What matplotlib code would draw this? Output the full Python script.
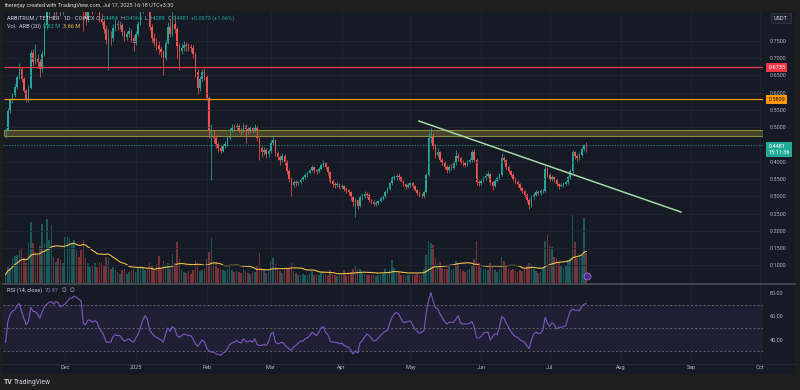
import numpy as np
import pandas as pd
import matplotlib
matplotlib.use("Agg")
import matplotlib.pyplot as plt
from matplotlib.patches import Rectangle
from matplotlib.lines import Line2D
from matplotlib.transforms import blended_transform_factory

plt.rcParams['font.family'] = ['Roboto', 'DejaVu Sans']

# ARB / USDT daily candles, index 0 = 2024-11-05, last = 2025-07-17
first_open = 0.474
closes = [
    0.492, 0.548, 0.578, 0.594, 0.617, 0.646, 0.668, 0.640, 0.604, 0.582,
    0.615, 0.715, 0.690, 0.700, 0.690, 0.668, 0.712, 0.795, 0.840, 0.855,
    0.862, 0.835, 0.862, 0.858, 0.835, 0.850, 0.868, 0.900, 0.960, 0.965,
    1.010, 0.995, 0.975, 0.965, 0.835, 0.815, 0.855, 0.858, 0.842, 0.865,
    0.850, 0.815, 0.805, 0.785, 0.752, 0.760, 0.758, 0.788, 0.800, 0.795,
    0.796, 0.775, 0.762, 0.770, 0.778, 0.760, 0.745, 0.770, 0.800, 0.838,
    0.865, 0.885, 0.870, 0.790, 0.760, 0.745, 0.738, 0.728, 0.718, 0.700,
    0.745, 0.790, 0.770, 0.800, 0.785, 0.735, 0.722, 0.730, 0.738, 0.735,
    0.732, 0.730, 0.712, 0.660, 0.615, 0.640, 0.660, 0.645, 0.585, 0.478,
    0.482, 0.470, 0.452, 0.440, 0.432, 0.445, 0.450, 0.468, 0.490, 0.500,
    0.498, 0.505, 0.492, 0.488, 0.505, 0.495, 0.488, 0.498, 0.490, 0.502,
    0.468, 0.440, 0.428, 0.435, 0.422, 0.430, 0.455, 0.462, 0.425, 0.415,
    0.405, 0.418, 0.400, 0.372, 0.350, 0.332, 0.340, 0.338, 0.340, 0.348,
    0.355, 0.362, 0.368, 0.375, 0.385, 0.375, 0.372, 0.380, 0.390, 0.398,
    0.385, 0.370, 0.345, 0.335, 0.332, 0.335, 0.328, 0.330, 0.322, 0.318,
    0.312, 0.298, 0.283, 0.288, 0.272, 0.298, 0.302, 0.306, 0.305, 0.288,
    0.284, 0.278, 0.280, 0.286, 0.294, 0.300, 0.313, 0.322, 0.338, 0.352,
    0.356, 0.358, 0.355, 0.345, 0.335, 0.328, 0.332, 0.338, 0.330, 0.318,
    0.310, 0.302, 0.300, 0.312, 0.362, 0.470, 0.478, 0.445, 0.420, 0.428,
    0.405, 0.398, 0.385, 0.375, 0.385, 0.382, 0.395, 0.418, 0.410, 0.400,
    0.395, 0.392, 0.400, 0.405, 0.428, 0.405, 0.340, 0.338, 0.345, 0.352,
    0.360, 0.365, 0.340, 0.330, 0.345, 0.352, 0.362, 0.410, 0.405, 0.385,
    0.372, 0.362, 0.350, 0.342, 0.335, 0.325, 0.315, 0.305, 0.290, 0.275,
    0.298, 0.305, 0.312, 0.310, 0.314, 0.315, 0.380, 0.362, 0.350, 0.355,
    0.348, 0.335, 0.330, 0.333, 0.336, 0.340, 0.355, 0.372, 0.428, 0.418,
    0.412, 0.420, 0.436, 0.4484, 0.4481,
]
highs = [
    .497, .556, .585, .600, .624, .652, .686, .675, .646, .610,
    .622, .724, .728, .742, .712, .698, .720, .805, .870, .880,
    .885, .870, .875, .880, .865, .862, .880, .915, .975, .990,
    1.040, 1.030, 1.005, .990, .972, .850, .868, .878, .865, .880,
    .875, .858, .830, .815, .795, .785, .778, .798, .815, .812,
    .808, .802, .782, .780, .790, .784, .768, .778, .808, .848,
    .878, .905, .900, .875, .800, .772, .758, .750, .735, .725,
    .752, .805, .815, .840, .825, .790, .745, .745, .750, .748,
    .745, .742, .738, .718, .668, .648, .668, .672, .650, .590,
    .510, .492, .478, .458, .448, .452, .460, .475, .498, .510,
    .508, .512, .510, .498, .512, .510, .500, .505, .502, .508,
    .505, .472, .445, .442, .440, .436, .462, .475, .465, .432,
    .420, .425, .422, .405, .378, .355, .348, .346, .345, .352,
    .360, .368, .372, .380, .392, .388, .380, .386, .396, .406,
    .400, .388, .372, .350, .340, .342, .338, .336, .334, .326,
    .322, .315, .302, .296, .292, .304, .310, .315, .312, .308,
    .292, .288, .285, .290, .298, .304, .318, .326, .342, .360,
    .362, .364, .366, .358, .348, .338, .338, .342, .340, .333,
    .322, .314, .308, .316, .368, .482, .497, .482, .452, .440,
    .432, .412, .402, .390, .392, .394, .402, .434, .424, .414,
    .405, .400, .406, .412, .434, .436, .410, .346, .350, .358,
    .368, .372, .368, .345, .350, .358, .368, .425, .418, .408,
    .390, .376, .366, .355, .346, .338, .328, .318, .308, .294,
    .304, .312, .318, .318, .320, .322, .388, .384, .366, .362,
    .358, .350, .338, .338, .340, .345, .360, .378, .434, .432,
    .422, .428, .444, .452, .4564,
]
lows = [
    .468, .488, .540, .570, .588, .610, .640, .632, .598, .574,
    .572, .610, .678, .684, .672, .646, .660, .706, .785, .825,
    .840, .815, .825, .842, .822, .826, .842, .860, .895, .940,
    .955, .975, .955, .945, .780, .795, .805, .838, .828, .835,
    .838, .805, .795, .772, .740, .666, .738, .750, .780, .782,
    .785, .765, .750, .752, .762, .748, .722, .738, .765, .795,
    .830, .858, .850, .782, .748, .736, .725, .712, .705, .652,
    .695, .740, .762, .765, .772, .700, .666, .712, .722, .722,
    .720, .718, .700, .645, .595, .606, .632, .638, .578, .470,
    .348, .455, .440, .428, .425, .428, .440, .445, .462, .485,
    .490, .492, .486, .478, .482, .455, .480, .484, .482, .486,
    .460, .405, .415, .420, .412, .415, .425, .448, .418, .405,
    .392, .400, .392, .365, .340, .300, .326, .330, .332, .336,
    .344, .350, .356, .364, .372, .368, .365, .368, .376, .385,
    .378, .362, .338, .328, .325, .326, .320, .322, .315, .310,
    .304, .290, .272, .241, .262, .268, .290, .295, .296, .282,
    .278, .272, .273, .276, .282, .290, .296, .308, .318, .334,
    .346, .348, .346, .340, .330, .322, .324, .328, .325, .314,
    .304, .298, .295, .296, .308, .358, .455, .438, .410, .415,
    .398, .390, .378, .368, .370, .375, .378, .392, .402, .394,
    .388, .385, .388, .396, .400, .398, .332, .330, .332, .340,
    .348, .355, .334, .318, .326, .340, .348, .358, .395, .378,
    .366, .355, .344, .336, .328, .318, .308, .298, .284, .262,
    .270, .292, .300, .303, .305, .308, .312, .355, .344, .345,
    .340, .330, .322, .326, .328, .332, .336, .350, .368, .408,
    .402, .406, .415, .430, .4288,
]
# volume in millions of ARB
volumes = [
    1.0, 1.9, 1.8, 2.9, 3.2, 3.3, 3.9, 4.1, 2.9, 2.3,
    4.7, 7.2, 4.7, 3.7, 3.3, 4.3, 7.0, 4.7, 7.5, 5.1,
    6.8, 3.1, 2.5, 2.9, 2.7, 2.3, 5.4, 5.4, 5.3, 4.7,
    5.1, 3.9, 3.1, 3.9, 5.1, 2.9, 2.3, 1.9, 2.1, 2.3,
    1.9, 2.5, 2.3, 2.1, 3.1, 2.9, 1.7, 1.9, 1.5, 1.3,
    1.1, 1.5, 1.7, 1.1, 1.3, 1.5, 1.7, 1.3, 1.9, 2.1,
    1.9, 1.5, 1.7, 2.3,
    2.0, 1.7, 2.2, 3.2, 1.8, 2.6, 2.0, 2.4, 1.6, 3.4,
    2.4, 4.8, 2.8, 1.6, 1.3, 1.2, 1.4, 1.1, 1.5, 2.6,
    2.4, 1.4, 1.5, 1.6, 2.8, 3.6, 5.3, 2.6, 2.4, 1.8,
    1.7, 1.5, 1.4, 1.6, 2.0, 1.5, 1.3, 1.4, 1.3, 1.2,
    1.6, 1.4, 1.2, 1.1, 1.2, 1.3, 2.0, 3.5, 1.8, 1.6,
    1.2, 1.3, 2.6, 3.0, 2.2, 1.6, 1.4, 1.2, 1.5, 1.6,
    1.8, 2.3, 1.4, 1.2,
    1.0, 0.9, 1.1, 0.9, 1.0, 1.2, 1.4, 1.0, 0.9, 1.0,
    1.3, 1.4, 1.1, 1.0, 1.5, 1.1, 0.9, 0.8, 1.0, 1.2,
    1.5, 1.0, 1.1, 1.3, 1.6, 2.0, 1.6, 1.7, 1.2, 1.1,
    1.0, 1.0, 0.9, 0.9, 0.8, 0.9, 1.0, 1.1, 1.6, 1.3,
    1.5, 2.7, 1.8, 1.2, 1.3, 1.0, 0.9, 0.8, 0.9, 1.0,
    0.9, 1.0, 1.1, 0.9, 1.0, 1.6, 3.3, 4.9, 4.7, 4.5,
    3.0, 2.2, 2.5, 1.8, 1.6,
    1.6, 2.0, 1.5, 1.7, 2.6, 2.2, 1.6, 1.4, 1.3, 1.5,
    1.6, 2.0, 2.8, 4.9, 2.4, 1.8, 1.6, 1.7, 1.5, 2.3,
    2.0, 1.5, 1.3, 1.6, 3.1, 2.6, 2.0, 1.7, 1.5, 1.6,
    1.4, 1.3, 1.5, 1.4, 1.6, 2.1, 2.4, 2.2, 1.6, 1.4,
    1.2, 1.3, 1.8, 5.0, 5.6, 4.3, 4.2, 3.1, 2.9, 2.5,
    2.0, 1.8, 2.0, 2.7, 3.0, 8.1, 4.8, 3.0, 3.2, 3.3,
    7.6, 3.5,
]
rsi = [
    37.7, 55.6, 62, 64.4, 65.8, 69.1, 71, 64, 58.5, 52.8, 55.6, 67.7, 64.4, 64, 62, 58.5, 64, 68.3,
    70.6, 72, 72.8, 70.6, 72.8, 71.7, 68.3, 69.4, 70.6, 72.8, 75.7, 75.7, 77.7, 76.3, 74.9, 73.4,
    54, 52.8, 56.8, 56.8, 54.9, 56.3, 54.9, 49.1, 47.1, 43.4, 37.7, 37.7, 37.7, 42.5, 44.2, 43.4, 43.4,
    40.6, 38.6, 39.7, 40.6, 38.6, 37.7, 41.4, 44.8, 50.6, 56.8, 60.6, 57.7, 48.2, 45.4, 43.1, 42, 40.9, 39.7, 37.7,
    44.8, 50, 47.1, 51.1, 49.1, 43.4, 42, 43.4, 44.8, 44.2, 43.4, 43.4, 40.6, 36.3, 34, 36.9, 39.7, 37.7, 32.6, 30,
    29.1, 29.1, 27.7, 27.1, 26.3, 28.3, 29.1, 32, 35.7, 36.9, 37.7, 39.1, 37.7, 36.9, 40.6, 38.6, 37.7, 39.1, 37.7, 40.6,
    35.7, 34.9, 34.9, 35.7, 34.9, 37.7, 44.8, 46.3, 37.7, 36.3, 36.9, 37.7, 35.7, 33.4, 32, 30.6, 33.4, 34.9, 36.9, 38.6,
    38.6, 40.6, 41.4, 43.4, 46.3, 44.8, 43.4, 46.3, 50, 51.1, 46.3, 44.2, 38.6, 37.7, 37.7, 37.4, 36.3, 36.9, 34.9, 34,
    33.4, 30.6, 27.7, 30, 28.3, 36.9, 39.1, 42, 44.8, 43.4, 41.4, 38.6, 39.1, 41.4, 43.4, 45.4, 47.1, 47.7, 54, 59.1, 62, 63.4, 62,
    57.7, 54.9, 54.9, 55.6, 56.3, 52.8, 49.1, 47.1, 45.4, 46.3, 47.7, 63.4, 73.4, 80.6, 73.4, 67.7, 66.3, 62, 59.1, 55.6,
    53.4, 54.9, 54.9, 54.9, 57.7, 60.6, 54, 53.4, 53.4, 53.4, 54, 55.6, 50.6, 41.4, 41.4, 42.5, 45.4, 46.3, 46.3, 39.7,
    42.5, 44.8, 44, 50.6, 59.7, 58.5, 54, 50.6, 47.1, 44.2, 42.5, 42, 39.7, 38.6, 37.7, 34.9, 32, 39.7, 44.8, 46.3,
    45.4, 45.4, 48.2, 59.1, 54, 51.1, 54.6, 52.8, 49.1, 50.6, 50.6, 51.1, 52, 58.5, 64.4, 66.3, 65.4, 65.4, 64.9, 68.3, 70.6, 70.97,
]

month_pos = [26, 57, 88, 116, 147, 177, 208, 238, 269, 300, 330]
month_names = ['Dec', '2025', 'Feb', 'Mar', 'Apr', 'May', 'Jun', 'Jul', 'Aug', 'Sep', 'Oct']
price_ticks = [0.10, 0.15, 0.20, 0.25, 0.30, 0.35, 0.40, 0.50, 0.55, 0.60, 0.65, 0.70, 0.75]
rsi_ticks = [40, 60, 80]

red_level = 0.6735
orange_level = 0.5809
zone_lo, zone_hi = 0.475, 0.492
trend_x = [180.8, 295.4]
trend_y = [0.518, 0.2543]
last_close = 0.4481

n = len(closes)
assert len(highs) == n and len(lows) == n and len(volumes) == n and len(rsi) == n, \
    (n, len(highs), len(lows), len(volumes), len(rsi))
opens = [first_open] + closes[:-1]

BG = '#161a25'
FRAME = '#1e1e1e'
UP = '#26a69a'
DOWN = '#ef5350'
GRID = '#1f2430'
TXT = '#b2b5be'
LIGHT = '#d1d4dc'
VOLMA = '#eec04a'
W, H = 800, 390
FS = 4.0

fig = plt.figure(figsize=(W / 100, H / 100), dpi=100, facecolor=FRAME)
renderer = fig.canvas.get_renderer()


def box(x0, y0, x1, y1):
    return [x0 / W, 1 - y1 / H, (x1 - x0) / W, (y1 - y0) / H]


def ftext(x, y, s, **kw):
    kw.setdefault('fontsize', FS)
    kw.setdefault('color', TXT)
    ha = kw.pop('ha', 'left')
    return fig.text(x / W, 1 - y / H, s, ha=ha, va='center', **kw)


def chain(x, y, parts, gap=2.0):
    # lay pieces of a legend line one after another
    for s, col in parts:
        t = ftext(x, y, s, color=col)
        x = t.get_window_extent(renderer).x1 + gap


fig.patches.append(Rectangle((3 / W, 1 - 374 / H), 792 / W, 363 / H, transform=fig.transFigure,
                             facecolor=BG, edgecolor='none', zorder=-5))

xlim = (-1.14, 331.3)
x = np.arange(n)
o = np.array(opens)
c = np.array(closes)
up = c >= o
colors = np.where(up, UP, DOWN)

# volume pane (underneath the candles)
vol_ax = fig.add_axes(box(3, 12, 763, 283))
vol_ax.set_facecolor(BG)
vol_ax.bar(x, volumes, width=0.7, color=colors, alpha=0.45, lw=0)
vol_ma = pd.Series(volumes).rolling(20, min_periods=1).mean()
vol_ax.plot(x, vol_ma, color=VOLMA, lw=0.8)
vol_ax.set_ylim(0, 31.9)
vol_ax.set_xlim(*xlim)
vol_ax.set_yticks([])
vol_ax.set_xticks(month_pos)
vol_ax.tick_params(axis='x', length=0, labelbottom=False)
vol_ax.grid(axis='x', color=GRID, lw=0.6)

# price pane
ax = vol_ax.twinx()
ax.set_ylim(0.0486, 0.834)
ax.set_xlim(*xlim)
ax.grid(axis='y', color=GRID, lw=0.6)
ax.vlines(x, lows, highs, colors=colors, lw=0.55)
ax.bar(x, np.maximum(np.abs(c - o), 0.0012), bottom=np.minimum(o, c), width=0.7, color=colors, lw=0)

ax.hlines(red_level, -0.5, xlim[1], color='#f23645', lw=0.9)
ax.hlines(orange_level, -0.5, xlim[1], color='#ff9800', lw=0.9)
ax.add_patch(Rectangle((-0.5, zone_lo), xlim[1] + 0.5, zone_hi - zone_lo,
                       facecolor='#46452a', edgecolor='#8f8840', lw=0.8))
ax.axhline(last_close, color=UP, lw=0.5, ls=(0, (2, 2)))
ax.plot(trend_x, trend_y, color='#a5d6a7', lw=1.1)

ax.set_yticks(price_ticks)
ax.set_yticklabels([f'{p:.4f}' for p in price_ticks])
ax.tick_params(axis='y', length=0, pad=5, labelsize=FS, labelcolor=TXT)

tr = blended_transform_factory(ax.transAxes, ax.transData)
lab = dict(transform=tr, fontsize=FS, va='center', ha='left', clip_on=False)
ax.text(1.007, red_level, '0.6735', color='white',
        bbox=dict(boxstyle='square,pad=0.35', fc='#f23645', ec='none'), **lab)
ax.text(1.007, orange_level, '0.5809', color='#131722',
        bbox=dict(boxstyle='square,pad=0.35', fc='#ff9800', ec='none'), **lab)
ax.text(1.007, last_close - 0.012, '0.4481\n15:11:36', color='white', linespacing=1.15,
        bbox=dict(boxstyle='square,pad=0.35', fc='#22ab94', ec='none'), **lab)

ax.plot([(587 - 3) / 760], [(283 - 276) / 271], 'o', transform=ax.transAxes, ms=5,
        mfc='#4a2a8a', mec='#9575cd', mew=0.6, clip_on=False)

# RSI pane
ax_r = fig.add_axes(box(3, 284, 763, 363))
ax_r.set_facecolor(BG)
ax_r.axhspan(30, 70, color='#7e57c2', alpha=0.1, lw=0)
for lvl in (70, 50, 30):
    ax_r.axhline(lvl, color='#787b86', lw=0.5, ls=(0, (3, 3)))
ax_r.plot(x, rsi, color='#7e57c2', lw=0.8)
ax_r.set_ylim(19.7, 88)
ax_r.set_xlim(*xlim)
ax_r.yaxis.tick_right()
ax_r.set_yticks(rsi_ticks)
ax_r.set_yticklabels([f'{v:.2f}' for v in rsi_ticks])
ax_r.set_xticks(month_pos)
ax_r.set_xticklabels(month_names)
ax_r.tick_params(axis='y', length=0, pad=5, labelsize=FS, labelcolor=TXT)
ax_r.tick_params(axis='x', length=0, pad=1.5, labelsize=FS, labelcolor=TXT)
ax_r.grid(axis='x', color=GRID, lw=0.6)

for a in (vol_ax, ax, ax_r):
    for s in a.spines.values():
        s.set_visible(False)

fig.add_artist(Line2D([3 / W, 795 / W], [1 - 283.5 / H] * 2, color='#4a4d57', lw=1.2))
fig.add_artist(Line2D([3 / W, 795 / W], [1 - 363.5 / H] * 2, color='#2a2e39', lw=0.6))

# texts
ftext(4, 6, 'thererjay created with TradingView.com, Jul 17, 2025 16:18 UTC+3:30', color=LIGHT)
chain(7, 18.3, [('ARBITRUM / TETHER · 1D · COINEX', LIGHT), ('O', TXT), ('0.4484', UP),
                ('H', TXT), ('0.4564', UP), ('L', TXT), ('0.4288', UP),
                ('C', TXT), ('0.4481', UP), ('+0.0073 (+1.66%)', UP)], gap=1.6)
chain(7, 26, [('Vol · ARB (20)', LIGHT), ('5.82 M', UP), ('3.66 M', VOLMA)], gap=2.5)
chain(7, 290, [('RSI (14, close)', LIGHT), ('70.97', '#9575cd'), ('∅', TXT), ('∅', TXT)], gap=3)
ftext(781, 18, 'USDT', ha='center', color=LIGHT,
      bbox=dict(boxstyle='square,pad=0.5', fc='#1e222d', ec='#363a45', lw=0.5))
ftext(4, 382, 'TV', fontsize=5, weight='bold', color=LIGHT)
ftext(14, 382, 'TradingView', fontsize=4.8, color=LIGHT)

fig.savefig('out.png', dpi=100, facecolor=fig.get_facecolor())
